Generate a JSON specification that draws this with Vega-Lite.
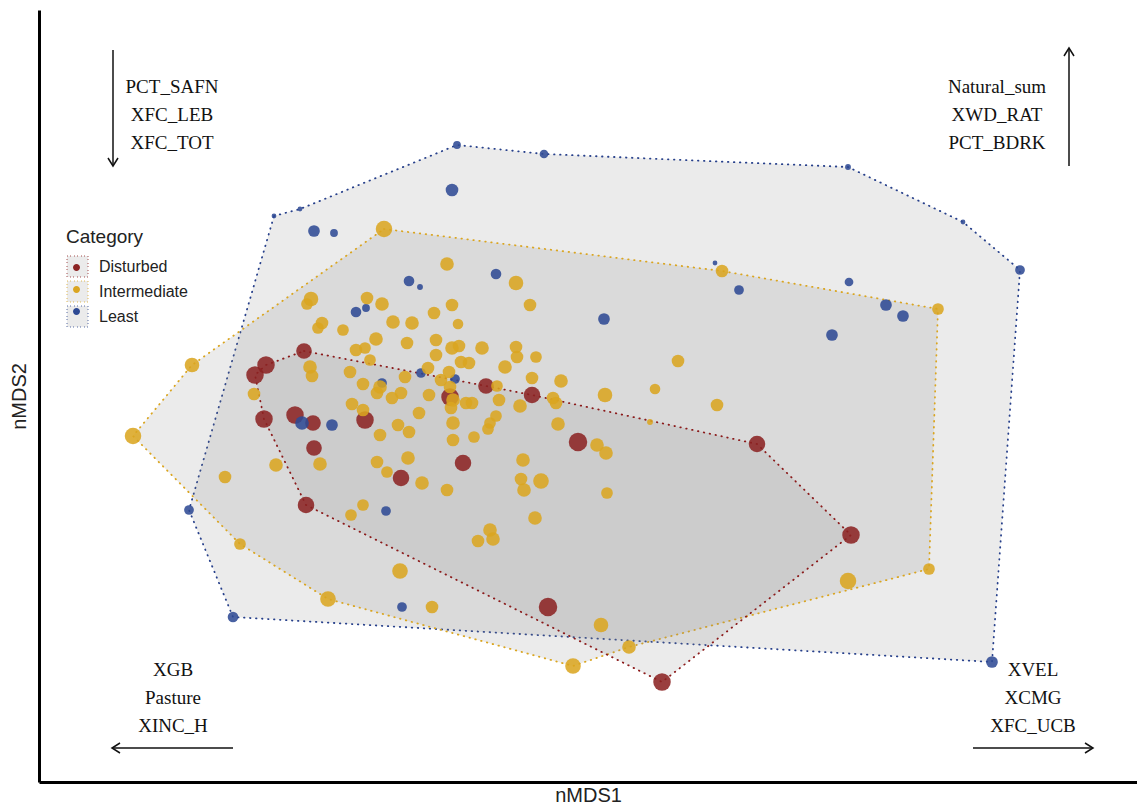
{
  "$schema": "https://vega.github.io/schema/vega-lite/v6.json",
  "width": 1098,
  "height": 772,
  "autosize": {"type": "none"},
  "padding": {"left": 39, "top": 10, "right": 0, "bottom": 26},
  "background": "white",
  "config": {"view": {"stroke": null}},
  "datasets": {
    "hulls": [
      {"Category": "Least", "vertex": 1, "nMDS1": 274, "nMDS2": 592},
      {"Category": "Least", "vertex": 2, "nMDS1": 300, "nMDS2": 599},
      {"Category": "Least", "vertex": 3, "nMDS1": 457, "nMDS2": 663},
      {"Category": "Least", "vertex": 4, "nMDS1": 544, "nMDS2": 654},
      {"Category": "Least", "vertex": 5, "nMDS1": 848, "nMDS2": 641},
      {"Category": "Least", "vertex": 6, "nMDS1": 963, "nMDS2": 586},
      {"Category": "Least", "vertex": 7, "nMDS1": 1020, "nMDS2": 538},
      {"Category": "Least", "vertex": 8, "nMDS1": 992, "nMDS2": 146},
      {"Category": "Least", "vertex": 9, "nMDS1": 233, "nMDS2": 191},
      {"Category": "Least", "vertex": 10, "nMDS1": 189, "nMDS2": 298},
      {"Category": "Intermediate", "vertex": 1, "nMDS1": 384, "nMDS2": 579},
      {"Category": "Intermediate", "vertex": 2, "nMDS1": 722, "nMDS2": 537},
      {"Category": "Intermediate", "vertex": 3, "nMDS1": 938, "nMDS2": 499},
      {"Category": "Intermediate", "vertex": 4, "nMDS1": 929, "nMDS2": 239},
      {"Category": "Intermediate", "vertex": 5, "nMDS1": 629, "nMDS2": 161},
      {"Category": "Intermediate", "vertex": 6, "nMDS1": 573, "nMDS2": 142},
      {"Category": "Intermediate", "vertex": 7, "nMDS1": 328, "nMDS2": 209},
      {"Category": "Intermediate", "vertex": 8, "nMDS1": 240, "nMDS2": 264},
      {"Category": "Intermediate", "vertex": 9, "nMDS1": 133, "nMDS2": 372},
      {"Category": "Intermediate", "vertex": 10, "nMDS1": 192, "nMDS2": 443},
      {"Category": "Disturbed", "vertex": 1, "nMDS1": 304, "nMDS2": 457},
      {"Category": "Disturbed", "vertex": 2, "nMDS1": 486, "nMDS2": 422},
      {"Category": "Disturbed", "vertex": 3, "nMDS1": 532, "nMDS2": 413},
      {"Category": "Disturbed", "vertex": 4, "nMDS1": 757, "nMDS2": 364},
      {"Category": "Disturbed", "vertex": 5, "nMDS1": 851, "nMDS2": 273},
      {"Category": "Disturbed", "vertex": 6, "nMDS1": 662, "nMDS2": 126},
      {"Category": "Disturbed", "vertex": 7, "nMDS1": 306, "nMDS2": 303},
      {"Category": "Disturbed", "vertex": 8, "nMDS1": 264, "nMDS2": 389},
      {"Category": "Disturbed", "vertex": 9, "nMDS1": 255, "nMDS2": 433},
      {"Category": "Disturbed", "vertex": 10, "nMDS1": 266, "nMDS2": 443}
    ],
    "sites": [
      {"Category": "Disturbed", "nMDS1": 304, "nMDS2": 457, "w": 64},
      {"Category": "Disturbed", "nMDS1": 266, "nMDS2": 443, "w": 81},
      {"Category": "Disturbed", "nMDS1": 255, "nMDS2": 433, "w": 81},
      {"Category": "Disturbed", "nMDS1": 264, "nMDS2": 389, "w": 81},
      {"Category": "Disturbed", "nMDS1": 306, "nMDS2": 303, "w": 72},
      {"Category": "Disturbed", "nMDS1": 662, "nMDS2": 126, "w": 81},
      {"Category": "Disturbed", "nMDS1": 851, "nMDS2": 273, "w": 81},
      {"Category": "Disturbed", "nMDS1": 757, "nMDS2": 364, "w": 72},
      {"Category": "Disturbed", "nMDS1": 532, "nMDS2": 413, "w": 72},
      {"Category": "Disturbed", "nMDS1": 486, "nMDS2": 422, "w": 64},
      {"Category": "Disturbed", "nMDS1": 295, "nMDS2": 393, "w": 81},
      {"Category": "Disturbed", "nMDS1": 313, "nMDS2": 385, "w": 64},
      {"Category": "Disturbed", "nMDS1": 314, "nMDS2": 360, "w": 64},
      {"Category": "Disturbed", "nMDS1": 365, "nMDS2": 388, "w": 81},
      {"Category": "Disturbed", "nMDS1": 401, "nMDS2": 330, "w": 72},
      {"Category": "Disturbed", "nMDS1": 463, "nMDS2": 345, "w": 72},
      {"Category": "Disturbed", "nMDS1": 450, "nMDS2": 411, "w": 81},
      {"Category": "Disturbed", "nMDS1": 578, "nMDS2": 366, "w": 90},
      {"Category": "Disturbed", "nMDS1": 548, "nMDS2": 201, "w": 90},
      {"Category": "Least", "nMDS1": 274, "nMDS2": 592, "w": 6},
      {"Category": "Least", "nMDS1": 300, "nMDS2": 599, "w": 6},
      {"Category": "Least", "nMDS1": 457, "nMDS2": 663, "w": 16},
      {"Category": "Least", "nMDS1": 544, "nMDS2": 654, "w": 20},
      {"Category": "Least", "nMDS1": 848, "nMDS2": 641, "w": 9},
      {"Category": "Least", "nMDS1": 963, "nMDS2": 586, "w": 6},
      {"Category": "Least", "nMDS1": 1020, "nMDS2": 538, "w": 25},
      {"Category": "Least", "nMDS1": 992, "nMDS2": 146, "w": 36},
      {"Category": "Least", "nMDS1": 233, "nMDS2": 191, "w": 30},
      {"Category": "Least", "nMDS1": 189, "nMDS2": 298, "w": 25},
      {"Category": "Least", "nMDS1": 452, "nMDS2": 618, "w": 42},
      {"Category": "Least", "nMDS1": 314, "nMDS2": 577, "w": 36},
      {"Category": "Least", "nMDS1": 334, "nMDS2": 575, "w": 16},
      {"Category": "Least", "nMDS1": 409, "nMDS2": 527, "w": 30},
      {"Category": "Least", "nMDS1": 420, "nMDS2": 521, "w": 9},
      {"Category": "Least", "nMDS1": 496, "nMDS2": 534, "w": 30},
      {"Category": "Least", "nMDS1": 356, "nMDS2": 496, "w": 30},
      {"Category": "Least", "nMDS1": 366, "nMDS2": 500, "w": 16},
      {"Category": "Least", "nMDS1": 715, "nMDS2": 545, "w": 6},
      {"Category": "Least", "nMDS1": 739, "nMDS2": 518, "w": 25},
      {"Category": "Least", "nMDS1": 604, "nMDS2": 489, "w": 36},
      {"Category": "Least", "nMDS1": 849, "nMDS2": 526, "w": 20},
      {"Category": "Least", "nMDS1": 886, "nMDS2": 503, "w": 36},
      {"Category": "Least", "nMDS1": 903, "nMDS2": 492, "w": 36},
      {"Category": "Least", "nMDS1": 832, "nMDS2": 473, "w": 36},
      {"Category": "Least", "nMDS1": 421, "nMDS2": 435, "w": 25},
      {"Category": "Least", "nMDS1": 455, "nMDS2": 429, "w": 25},
      {"Category": "Least", "nMDS1": 382, "nMDS2": 425, "w": 25},
      {"Category": "Least", "nMDS1": 302, "nMDS2": 385, "w": 49},
      {"Category": "Least", "nMDS1": 332, "nMDS2": 383, "w": 36},
      {"Category": "Least", "nMDS1": 386, "nMDS2": 297, "w": 25},
      {"Category": "Least", "nMDS1": 402, "nMDS2": 201, "w": 25},
      {"Category": "Intermediate", "nMDS1": 384, "nMDS2": 579, "w": 72},
      {"Category": "Intermediate", "nMDS1": 722, "nMDS2": 537, "w": 42},
      {"Category": "Intermediate", "nMDS1": 938, "nMDS2": 499, "w": 36},
      {"Category": "Intermediate", "nMDS1": 929, "nMDS2": 239, "w": 36},
      {"Category": "Intermediate", "nMDS1": 629, "nMDS2": 161, "w": 49},
      {"Category": "Intermediate", "nMDS1": 573, "nMDS2": 142, "w": 64},
      {"Category": "Intermediate", "nMDS1": 328, "nMDS2": 209, "w": 64},
      {"Category": "Intermediate", "nMDS1": 240, "nMDS2": 264, "w": 36},
      {"Category": "Intermediate", "nMDS1": 133, "nMDS2": 372, "w": 72},
      {"Category": "Intermediate", "nMDS1": 192, "nMDS2": 443, "w": 56},
      {"Category": "Intermediate", "nMDS1": 447, "nMDS2": 544, "w": 49},
      {"Category": "Intermediate", "nMDS1": 516, "nMDS2": 525, "w": 56},
      {"Category": "Intermediate", "nMDS1": 530, "nMDS2": 503, "w": 42},
      {"Category": "Intermediate", "nMDS1": 311, "nMDS2": 509, "w": 56},
      {"Category": "Intermediate", "nMDS1": 307, "nMDS2": 504, "w": 36},
      {"Category": "Intermediate", "nMDS1": 367, "nMDS2": 510, "w": 42},
      {"Category": "Intermediate", "nMDS1": 382, "nMDS2": 504, "w": 49},
      {"Category": "Intermediate", "nMDS1": 434, "nMDS2": 495, "w": 42},
      {"Category": "Intermediate", "nMDS1": 452, "nMDS2": 503, "w": 42},
      {"Category": "Intermediate", "nMDS1": 458, "nMDS2": 484, "w": 30},
      {"Category": "Intermediate", "nMDS1": 393, "nMDS2": 486, "w": 49},
      {"Category": "Intermediate", "nMDS1": 412, "nMDS2": 485, "w": 49},
      {"Category": "Intermediate", "nMDS1": 322, "nMDS2": 485, "w": 42},
      {"Category": "Intermediate", "nMDS1": 318, "nMDS2": 480, "w": 36},
      {"Category": "Intermediate", "nMDS1": 343, "nMDS2": 478, "w": 36},
      {"Category": "Intermediate", "nMDS1": 376, "nMDS2": 469, "w": 49},
      {"Category": "Intermediate", "nMDS1": 356, "nMDS2": 458, "w": 42},
      {"Category": "Intermediate", "nMDS1": 365, "nMDS2": 460, "w": 36},
      {"Category": "Intermediate", "nMDS1": 370, "nMDS2": 448, "w": 36},
      {"Category": "Intermediate", "nMDS1": 407, "nMDS2": 465, "w": 42},
      {"Category": "Intermediate", "nMDS1": 436, "nMDS2": 468, "w": 42},
      {"Category": "Intermediate", "nMDS1": 436, "nMDS2": 453, "w": 42},
      {"Category": "Intermediate", "nMDS1": 452, "nMDS2": 460, "w": 49},
      {"Category": "Intermediate", "nMDS1": 459, "nMDS2": 462, "w": 42},
      {"Category": "Intermediate", "nMDS1": 482, "nMDS2": 460, "w": 49},
      {"Category": "Intermediate", "nMDS1": 516, "nMDS2": 461, "w": 42},
      {"Category": "Intermediate", "nMDS1": 517, "nMDS2": 451, "w": 42},
      {"Category": "Intermediate", "nMDS1": 536, "nMDS2": 451, "w": 36},
      {"Category": "Intermediate", "nMDS1": 505, "nMDS2": 441, "w": 49},
      {"Category": "Intermediate", "nMDS1": 678, "nMDS2": 447, "w": 42},
      {"Category": "Intermediate", "nMDS1": 310, "nMDS2": 441, "w": 49},
      {"Category": "Intermediate", "nMDS1": 312, "nMDS2": 432, "w": 42},
      {"Category": "Intermediate", "nMDS1": 350, "nMDS2": 436, "w": 42},
      {"Category": "Intermediate", "nMDS1": 363, "nMDS2": 424, "w": 42},
      {"Category": "Intermediate", "nMDS1": 380, "nMDS2": 421, "w": 49},
      {"Category": "Intermediate", "nMDS1": 377, "nMDS2": 415, "w": 42},
      {"Category": "Intermediate", "nMDS1": 392, "nMDS2": 410, "w": 42},
      {"Category": "Intermediate", "nMDS1": 401, "nMDS2": 415, "w": 42},
      {"Category": "Intermediate", "nMDS1": 405, "nMDS2": 431, "w": 42},
      {"Category": "Intermediate", "nMDS1": 428, "nMDS2": 440, "w": 42},
      {"Category": "Intermediate", "nMDS1": 429, "nMDS2": 413, "w": 42},
      {"Category": "Intermediate", "nMDS1": 441, "nMDS2": 428, "w": 42},
      {"Category": "Intermediate", "nMDS1": 449, "nMDS2": 436, "w": 42},
      {"Category": "Intermediate", "nMDS1": 461, "nMDS2": 446, "w": 42},
      {"Category": "Intermediate", "nMDS1": 469, "nMDS2": 445, "w": 42},
      {"Category": "Intermediate", "nMDS1": 450, "nMDS2": 421, "w": 42},
      {"Category": "Intermediate", "nMDS1": 453, "nMDS2": 408, "w": 49},
      {"Category": "Intermediate", "nMDS1": 451, "nMDS2": 400, "w": 42},
      {"Category": "Intermediate", "nMDS1": 466, "nMDS2": 405, "w": 42},
      {"Category": "Intermediate", "nMDS1": 472, "nMDS2": 405, "w": 42},
      {"Category": "Intermediate", "nMDS1": 352, "nMDS2": 404, "w": 42},
      {"Category": "Intermediate", "nMDS1": 363, "nMDS2": 398, "w": 42},
      {"Category": "Intermediate", "nMDS1": 419, "nMDS2": 395, "w": 42},
      {"Category": "Intermediate", "nMDS1": 254, "nMDS2": 414, "w": 42},
      {"Category": "Intermediate", "nMDS1": 453, "nMDS2": 385, "w": 49},
      {"Category": "Intermediate", "nMDS1": 474, "nMDS2": 371, "w": 36},
      {"Category": "Intermediate", "nMDS1": 453, "nMDS2": 368, "w": 42},
      {"Category": "Intermediate", "nMDS1": 380, "nMDS2": 373, "w": 42},
      {"Category": "Intermediate", "nMDS1": 398, "nMDS2": 383, "w": 42},
      {"Category": "Intermediate", "nMDS1": 409, "nMDS2": 376, "w": 42},
      {"Category": "Intermediate", "nMDS1": 276, "nMDS2": 343, "w": 49},
      {"Category": "Intermediate", "nMDS1": 320, "nMDS2": 344, "w": 49},
      {"Category": "Intermediate", "nMDS1": 225, "nMDS2": 331, "w": 42},
      {"Category": "Intermediate", "nMDS1": 377, "nMDS2": 346, "w": 42},
      {"Category": "Intermediate", "nMDS1": 387, "nMDS2": 336, "w": 36},
      {"Category": "Intermediate", "nMDS1": 408, "nMDS2": 350, "w": 49},
      {"Category": "Intermediate", "nMDS1": 422, "nMDS2": 325, "w": 49},
      {"Category": "Intermediate", "nMDS1": 447, "nMDS2": 318, "w": 42},
      {"Category": "Intermediate", "nMDS1": 363, "nMDS2": 303, "w": 36},
      {"Category": "Intermediate", "nMDS1": 351, "nMDS2": 293, "w": 36},
      {"Category": "Intermediate", "nMDS1": 532, "nMDS2": 430, "w": 42},
      {"Category": "Intermediate", "nMDS1": 561, "nMDS2": 427, "w": 49},
      {"Category": "Intermediate", "nMDS1": 655, "nMDS2": 419, "w": 30},
      {"Category": "Intermediate", "nMDS1": 605, "nMDS2": 413, "w": 56},
      {"Category": "Intermediate", "nMDS1": 717, "nMDS2": 403, "w": 42},
      {"Category": "Intermediate", "nMDS1": 497, "nMDS2": 422, "w": 36},
      {"Category": "Intermediate", "nMDS1": 499, "nMDS2": 408, "w": 42},
      {"Category": "Intermediate", "nMDS1": 520, "nMDS2": 402, "w": 49},
      {"Category": "Intermediate", "nMDS1": 553, "nMDS2": 410, "w": 42},
      {"Category": "Intermediate", "nMDS1": 556, "nMDS2": 405, "w": 42},
      {"Category": "Intermediate", "nMDS1": 496, "nMDS2": 392, "w": 36},
      {"Category": "Intermediate", "nMDS1": 490, "nMDS2": 385, "w": 36},
      {"Category": "Intermediate", "nMDS1": 488, "nMDS2": 379, "w": 36},
      {"Category": "Intermediate", "nMDS1": 558, "nMDS2": 384, "w": 49},
      {"Category": "Intermediate", "nMDS1": 650, "nMDS2": 386, "w": 9},
      {"Category": "Intermediate", "nMDS1": 597, "nMDS2": 363, "w": 49},
      {"Category": "Intermediate", "nMDS1": 606, "nMDS2": 355, "w": 49},
      {"Category": "Intermediate", "nMDS1": 523, "nMDS2": 348, "w": 49},
      {"Category": "Intermediate", "nMDS1": 521, "nMDS2": 329, "w": 42},
      {"Category": "Intermediate", "nMDS1": 524, "nMDS2": 318, "w": 49},
      {"Category": "Intermediate", "nMDS1": 541, "nMDS2": 327, "w": 64},
      {"Category": "Intermediate", "nMDS1": 607, "nMDS2": 315, "w": 36},
      {"Category": "Intermediate", "nMDS1": 535, "nMDS2": 290, "w": 49},
      {"Category": "Intermediate", "nMDS1": 490, "nMDS2": 278, "w": 49},
      {"Category": "Intermediate", "nMDS1": 478, "nMDS2": 267, "w": 42},
      {"Category": "Intermediate", "nMDS1": 493, "nMDS2": 269, "w": 49},
      {"Category": "Intermediate", "nMDS1": 400, "nMDS2": 237, "w": 64},
      {"Category": "Intermediate", "nMDS1": 432, "nMDS2": 201, "w": 42},
      {"Category": "Intermediate", "nMDS1": 848, "nMDS2": 227, "w": 72},
      {"Category": "Intermediate", "nMDS1": 601, "nMDS2": 183, "w": 56}
    ],
    "notes": [
      {"nMDS1": 172, "nMDS2": 721, "label": "PCT_SAFN"},
      {"nMDS1": 172, "nMDS2": 693, "label": "XFC_LEB"},
      {"nMDS1": 172, "nMDS2": 665, "label": "XFC_TOT"},
      {"nMDS1": 997, "nMDS2": 721, "label": "Natural_sum"},
      {"nMDS1": 997, "nMDS2": 693, "label": "XWD_RAT"},
      {"nMDS1": 997, "nMDS2": 665, "label": "PCT_BDRK"},
      {"nMDS1": 173, "nMDS2": 138, "label": "XGB"},
      {"nMDS1": 173, "nMDS2": 110, "label": "Pasture"},
      {"nMDS1": 173, "nMDS2": 82, "label": "XINC_H"},
      {"nMDS1": 1033, "nMDS2": 138, "label": "XVEL"},
      {"nMDS1": 1033, "nMDS2": 110, "label": "XCMG"},
      {"nMDS1": 1033, "nMDS2": 82, "label": "XFC_UCB"}
    ],
    "arrows": [
      {"dir": "down", "nMDS1": 113, "nMDS2": 758, "end1": 113, "end2": 642},
      {"dir": "up", "nMDS1": 1069, "nMDS2": 642, "end1": 1069, "end2": 760},
      {"dir": "left", "nMDS1": 233, "nMDS2": 60, "end1": 112, "end2": 60},
      {"dir": "right", "nMDS1": 973, "nMDS2": 60, "end1": 1093, "end2": 60}
    ]
  },
  "encoding": {
    "x": {
      "field": "nMDS1", "type": "quantitative",
      "scale": {"domain": [39, 1137], "nice": false, "zero": false},
      "axis": {"title": "nMDS1", "ticks": false, "labels": false, "grid": false, "domainWidth": 3, "domainColor": "#000000", "titleFont": "Liberation Sans", "titleFontSize": 20, "titleFontWeight": "normal", "titleColor": "#222222", "titlePadding": 3}
    },
    "y": {
      "field": "nMDS2", "type": "quantitative",
      "scale": {"domain": [26, 798], "nice": false, "zero": false},
      "axis": {"title": "nMDS2", "ticks": false, "labels": false, "grid": false, "domainWidth": 3, "domainColor": "#000000", "titleFont": "Liberation Sans", "titleFontSize": 20, "titleFontWeight": "normal", "titleColor": "#222222", "titlePadding": 10}
    }
  },
  "layer": [
    {
      "data": {"name": "hulls"},
      "mark": {"type": "line", "interpolate": "linear-closed", "fill": "rgba(128,128,128,0.16)", "strokeWidth": 1.8, "strokeDash": [0.5, 5.5], "strokeCap": "round"},
      "encoding": {
        "order": {"field": "vertex", "type": "quantitative"},
        "stroke": {
          "field": "Category", "type": "nominal",
          "scale": {"range": ["#8B1A1A", "#DAA520", "#27408B"]},
          "legend": {
            "orient": "none", "legendX": 27, "legendY": 218, "padding": 0,
            "title": "Category", "titleFont": "Liberation Sans", "titleFontSize": 19, "titleFontWeight": "normal", "titleColor": "#222222", "titlePadding": 8,
            "labelFont": "Liberation Sans", "labelFontSize": 16, "labelColor": "#222222", "labelOffset": 10,
            "symbolType": "square", "symbolSize": 441, "rowPadding": -6,
            "symbolStrokeWidth": 1.5, "symbolDash": [0.5, 3],
            "encode": {"symbols": {"strokeCap": {"value": "round"}}}
          }
        }
      }
    },
    {
      "data": {"name": "sites"},
      "mark": {"type": "point", "filled": true, "shape": "circle", "opacity": 0.87, "strokeWidth": 0},
      "encoding": {
        "fill": {
          "field": "Category", "type": "nominal",
          "scale": {"range": ["#8B2323", "#DAA520", "#2E4A94"]},
          "legend": {
            "orient": "none", "legendX": 27, "legendY": 247, "padding": 0,
            "title": null, "labelExpr": "''", "labelFontSize": 16, "labelOffset": 10,
            "symbolType": "M0.33,0A0.33,0.33,0,1,1,-0.33,0A0.33,0.33,0,1,1,0.33,0Z", "symbolSize": 441, "rowPadding": 3,
            "symbolStrokeWidth": 0, "symbolOpacity": 1
          }
        },
        "size": {"field": "w", "type": "quantitative", "scale": {"domain": [0, 100], "range": [0, 380]}, "legend": null}
      }
    },
    {
      "data": {"name": "notes"},
      "mark": {"type": "text", "font": "Liberation Serif", "fontSize": 19, "color": "#111111", "align": "center", "baseline": "middle"},
      "encoding": {"text": {"field": "label", "type": "nominal"}}
    },
    {
      "data": {"name": "arrows"},
      "mark": {"type": "rule", "color": "#111111", "strokeWidth": 1.5},
      "encoding": {
        "x2": {"field": "end1"},
        "y2": {"field": "end2"}
      }
    },
    {
      "data": {"name": "arrows"},
      "mark": {"type": "point", "filled": false, "size": 256, "color": "#111111", "strokeWidth": 1.5, "opacity": 1},
      "encoding": {
        "x": {"field": "end1", "type": "quantitative"},
        "y": {"field": "end2", "type": "quantitative"},
        "shape": {"field": "dir", "type": "nominal", "scale": {"domain": ["down", "left", "up", "right"], "range": ["M-0.625,-1L0,0L0.625,-1", "M1,-0.625L0,0L1,0.625", "M-0.625,1L0,0L0.625,1", "M-1,-0.625L0,0L-1,0.625"]}, "legend": null}
      }
    }
  ]
}
